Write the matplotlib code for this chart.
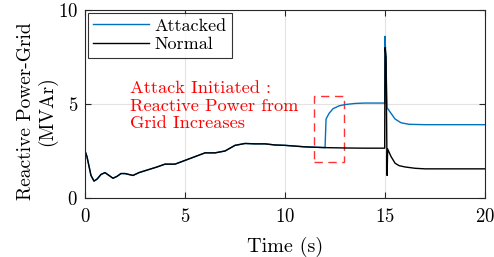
import matplotlib
matplotlib.use('Agg')
import matplotlib.pyplot as plt  # for plotting
from matplotlib.patches import Rectangle

plt.rcParams['font.family'] = 'serif'
plt.rcParams['font.serif'] = ['cmr10']
plt.rcParams['mathtext.fontset'] = 'cm'
plt.rcParams['axes.unicode_minus'] = False
plt.rcParams['axes.formatter.use_mathtext'] = True

# Shared part of both runs (before the attack)
t_common = [0.0, 0.02, 0.1, 0.3, 0.45, 0.6, 0.8, 1.0, 1.2, 1.4, 1.6, 1.8, 2.0, 2.2,
            2.4, 2.7, 3.0, 3.3, 3.6, 4.0, 4.5, 5.0, 5.5, 6.0, 6.5, 7.0, 7.5, 8.0,
            8.5, 9.0, 9.5, 10.0, 11.0, 12.0]
q_common = [0.0, 2.45, 2.2, 1.2, 0.9, 1.0, 1.25, 1.35, 1.2, 1.05, 1.15, 1.3, 1.3, 1.25,
            1.2, 1.35, 1.45, 1.55, 1.65, 1.8, 1.8, 2.0, 2.2, 2.4, 2.4, 2.5, 2.8, 2.9,
            2.88, 2.88, 2.82, 2.8, 2.72, 2.68]

# Normal case after t = 12 s
t_normal_tail = [13.0, 14.0, 14.98, 15.0, 15.05, 15.1, 15.13, 15.3, 15.5, 15.7,
                 16.0, 16.5, 17.0, 20.0]
q_normal_tail = [2.66, 2.65, 2.65, 8.0, 7.5, 1.2, 2.6, 2.2, 1.85, 1.72,
                 1.65, 1.58, 1.55, 1.55]

# Attacked case after t = 12 s
t_attack_tail = [12.05, 12.2, 12.4, 12.7, 13.0, 13.5, 14.0, 14.98, 15.0, 15.05,
                 15.1, 15.3, 15.5, 15.8, 16.2, 17.0, 20.0]
q_attack_tail = [4.2, 4.5, 4.75, 4.9, 4.97, 5.03, 5.05, 5.05, 8.6, 7.0,
                 4.8, 4.5, 4.2, 4.0, 3.92, 3.9, 3.9]

t_normal = t_common + t_normal_tail
q_normal = q_common + q_normal_tail
t_attack = t_common + t_attack_tail
q_attack = q_common + q_attack_tail

fig = plt.figure(figsize=(4.94, 2.57), dpi=100)
ax = fig.add_axes([0.172, 0.2296, 0.81, 0.7315])

ax.plot(t_attack, q_attack, color='#0072BD', lw=1.0, label='Attacked')
ax.plot(t_normal, q_normal, color='black', lw=1.0, label='Normal')

# Dashed box around attack start
ax.add_patch(Rectangle((11.45, 1.9), 1.5, 3.53, fill=False, edgecolor='#FF3333',
                       lw=1.0, linestyle=(0, (6, 4))))
ax.text(2.25, 4.9, 'Attack Initiated :\nReactive Power from\nGrid Increases',
        color='red', fontsize=13.2, va='center', ha='left', linespacing=1.2)

ax.set_xlim(0, 20)
ax.set_ylim(0, 10)
ax.set_xticks([0, 5, 10, 15, 20])
ax.set_yticks([0, 5, 10])
ax.grid(True, color='#E3E3E3', lw=0.8)
ax.set_axisbelow(True)
ax.tick_params(direction='in', top=True, right=True, labelsize=13.5, colors='#262626',
               length=4)
ax.tick_params(axis='x', pad=7)
ax.tick_params(axis='y', pad=5)
for lab in ax.get_xticklabels() + ax.get_yticklabels():
    lab.set_color('black')
for s in ax.spines.values():
    s.set_color('#262626')
    s.set_linewidth(0.8)

ax.set_xlabel('Time (s)', fontsize=14.5, labelpad=8)
ax.set_ylabel('Reactive Power-Grid\n(MVAr)', fontsize=14, linespacing=1.13)
ax.yaxis.set_label_coords(-0.07, 0.46)

leg = ax.legend(loc='upper left', fontsize=13, frameon=True, fancybox=False,
                edgecolor='black', handlelength=3.1, borderaxespad=0.15,
                borderpad=0.3, labelspacing=0.15, handletextpad=0.3)
leg.get_frame().set_linewidth(0.8)

fig.savefig('out.png', dpi=100)
